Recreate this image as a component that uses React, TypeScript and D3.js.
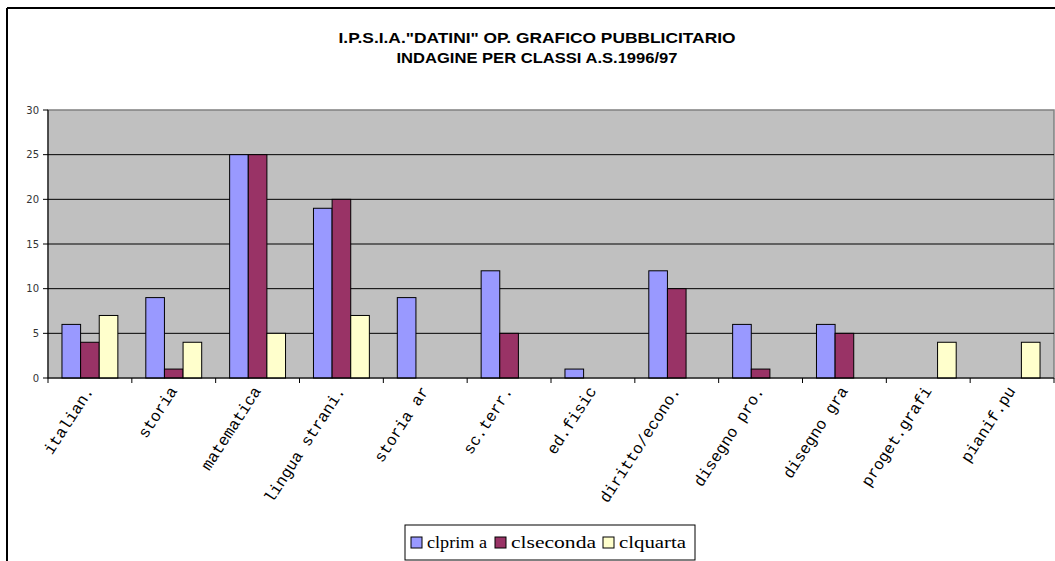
import React from "react";
import * as d3 from "d3";

const categories = [
  "italian.", "storia", "matematica", "lingua strani.", "storia ar",
  "sc.terr.", "ed.fisic", "diritto/econo.", "disegno pro.", "disegno gra",
  "proget.grafi", "pianif.pu",
];
const seriesNames = ["clprim a", "clseconda", "clquarta"];
const clprima = [6, 9, 25, 19, 9, 12, 1, 12, 6, 6, 0, 0];
const clseconda = [4, 1, 25, 20, 0, 5, 0, 10, 1, 5, 0, 0];
const clquarta = [7, 4, 5, 7, 0, 0, 0, 0, 0, 0, 4, 4];
const yTicks = [0, 5, 10, 15, 20, 25, 30];
const colors = ["#9999FF", "#993366", "#FFFFCC"];
const titleLines = [
  'I.P.S.I.A."DATINI" OP. GRAFICO PUBBLICITARIO',
  "INDAGINE PER CLASSI A.S.1996/97",
];

export default function App() {
  const W = 1055, H = 561;
  const left = 48, right = 1054, top = 110, bottom = 378;
  const series = [clprima, clseconda, clquarta];
  const x = d3.scaleBand<string>().domain(categories).range([left, right]).paddingInner(0).paddingOuter(0);
  const bw = x.bandwidth();
  const barW = bw / 4.5;
  const y = d3.scaleLinear().domain([0, 30]).range([bottom, top]);
  const titleLens = [397, 281];
  const legendX = [411, 495, 603];
  const legendLens = [60, 85, 67];

  return (
    <svg width={W} height={H} style={{ position: "absolute", left: 0, top: 0, display: "block" }}>
      <rect x={0} y={0} width={W} height={H} fill="#fff" />
      <line x1={7} y1={8} x2={W} y2={8} stroke="#000" strokeWidth={2} />
      <line x1={7} y1={8} x2={7} y2={H} stroke="#000" strokeWidth={2} />
      {titleLines.map((t, i) => (
        <text key={i} x={537} y={43 + i * 20} textAnchor="middle" textLength={titleLens[i]} lengthAdjust="spacingAndGlyphs"
          fontFamily="Liberation Sans, Arial, sans-serif" fontWeight="bold" fontSize={15}>{t}</text>
      ))}
      <rect x={left} y={top} width={right - left} height={bottom - top} fill="#C0C0C0" stroke="#808080" strokeWidth={1.5} />
      {yTicks.filter(v => v > 0 && v < 30).map(v => (
        <line key={v} x1={left} x2={right} y1={y(v)} y2={y(v)} stroke="#000" strokeWidth={1} />
      ))}
      {series.map((vals, si) => vals.map((v, ci) => v > 0 ? (
        <rect key={`${si}-${ci}`} x={(x(categories[ci]) as number) + barW * 0.75 + si * barW}
          y={y(v)} width={barW} height={bottom - y(v)} fill={colors[si]} stroke="#000" strokeWidth={1} />
      ) : null))}
      <line x1={left} x2={right} y1={bottom} y2={bottom} stroke="#000" strokeWidth={1} />
      <line x1={left} x2={left} y1={top} y2={bottom} stroke="#000" strokeWidth={1} />
      {yTicks.map(v => (
        <g key={v}>
          <line x1={left - 5} x2={left} y1={y(v)} y2={y(v)} stroke="#000" />
          <text x={left - 9} y={y(v) + 3.5} textAnchor="end" fontFamily="DejaVu Sans, sans-serif" fontSize={10} fill="#333">{v}</text>
        </g>
      ))}
      {categories.map((c, i) => (
        <line key={"t" + i} x1={x(c) as number} x2={x(c) as number} y1={bottom} y2={bottom + 5} stroke="#000" />
      ))}
      <line x1={right} x2={right} y1={bottom} y2={bottom + 5} stroke="#000" />
      {categories.map((c, i) => {
        const cx = (x(c) as number) + bw / 2 + 4;
        const cy = bottom + 13;
        return (
          <text key={"l" + i} x={cx} y={cy} textAnchor="end" transform={`rotate(-57 ${cx} ${cy})`}
            fontFamily="Liberation Mono, Courier New, monospace" fontSize={16} fill="#000">{c}</text>
        );
      })}
      <rect x={405} y={525} width={290} height={35} fill="#fff" stroke="#000" strokeWidth={1} />
      {seriesNames.map((n, i) => {
        const lx = legendX[i];
        return (
          <g key={n}>
            <rect x={lx} y={537} width={11} height={11} fill={colors[i]} stroke="#000" />
            <text x={lx + 16} y={548} textLength={legendLens[i]} lengthAdjust="spacingAndGlyphs"
              fontFamily="Liberation Serif, serif" fontSize={16}>{n}</text>
          </g>
        );
      })}
    </svg>
  );
}
